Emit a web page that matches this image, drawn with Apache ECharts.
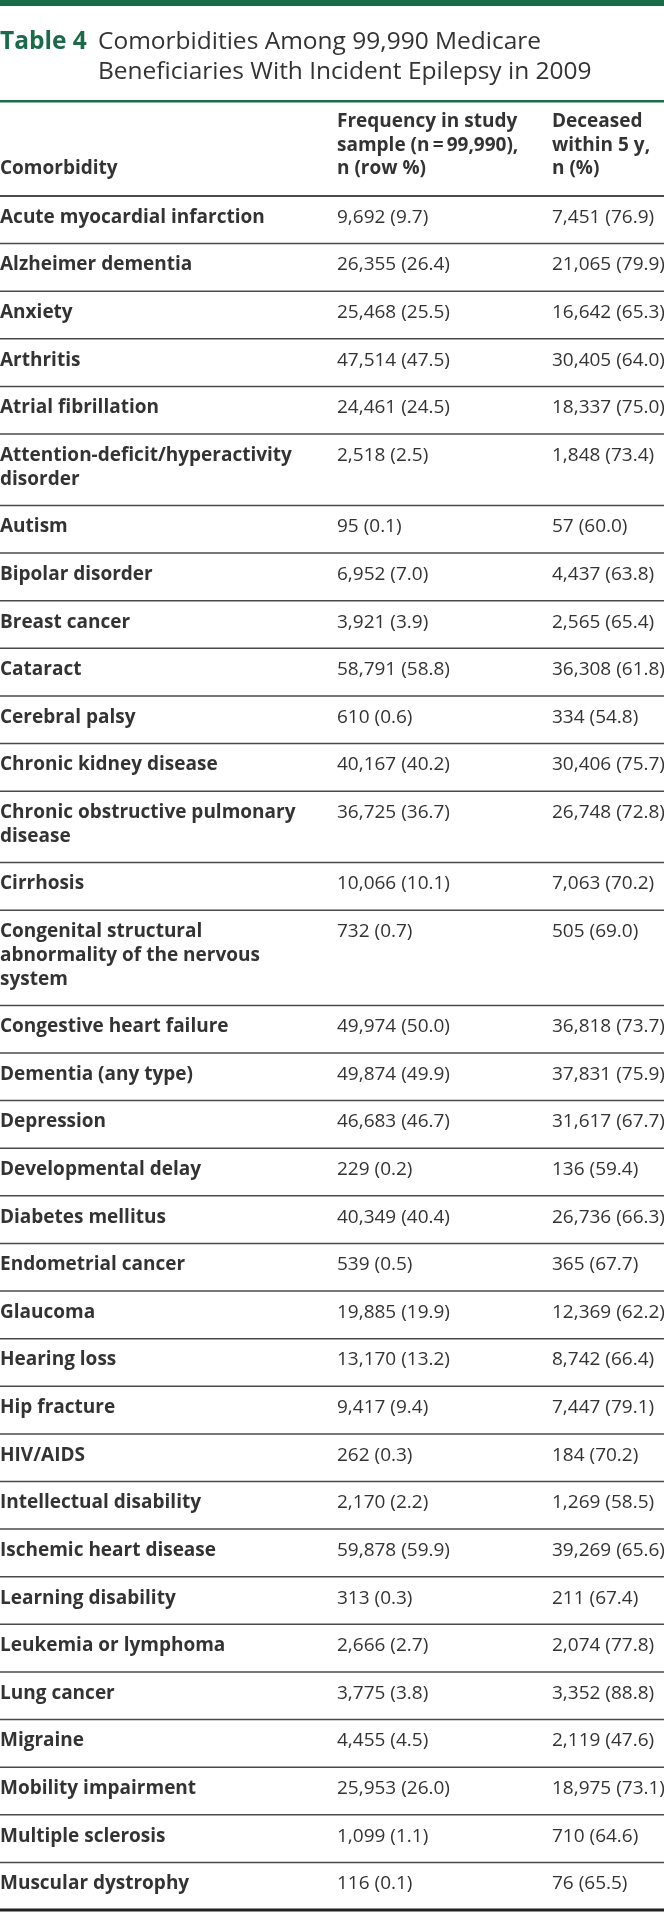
<!DOCTYPE html>
<html>
<head>
<meta charset="utf-8">
<script src="https://cdn.jsdelivr.net/npm/echarts@6/dist/echarts.min.js"></script>
<style>
  html, body { margin: 0; padding: 0; background: #fff; }
  #main { width: 664px; height: 1912px; }
</style>
</head>
<body>
<div id="main"></div>
<script>
// table rows (line breaks as printed)
const comorbidities = [
  'Acute myocardial infarction', 'Alzheimer dementia', 'Anxiety', 'Arthritis',
  'Atrial fibrillation', 'Attention-deficit/hyperactivity\ndisorder', 'Autism',
  'Bipolar disorder', 'Breast cancer', 'Cataract', 'Cerebral palsy',
  'Chronic kidney disease', 'Chronic obstructive pulmonary\ndisease', 'Cirrhosis',
  'Congenital structural\nabnormality of the nervous\nsystem',
  'Congestive heart failure', 'Dementia (any type)', 'Depression',
  'Developmental delay', 'Diabetes mellitus', 'Endometrial cancer', 'Glaucoma',
  'Hearing loss', 'Hip fracture', 'HIV/AIDS', 'Intellectual disability',
  'Ischemic heart disease', 'Learning disability', 'Leukemia or lymphoma',
  'Lung cancer', 'Migraine', 'Mobility impairment', 'Multiple sclerosis',
  'Muscular dystrophy'
];
const freqN = [9692, 26355, 25468, 47514, 24461, 2518, 95, 6952, 3921, 58791, 610,
  40167, 36725, 10066, 732, 49974, 49874, 46683, 229, 40349, 539, 19885, 13170,
  9417, 262, 2170, 59878, 313, 2666, 3775, 4455, 25953, 1099, 116];
const freqPct = [9.7, 26.4, 25.5, 47.5, 24.5, 2.5, 0.1, 7.0, 3.9, 58.8, 0.6,
  40.2, 36.7, 10.1, 0.7, 50.0, 49.9, 46.7, 0.2, 40.4, 0.5, 19.9, 13.2,
  9.4, 0.3, 2.2, 59.9, 0.3, 2.7, 3.8, 4.5, 26.0, 1.1, 0.1];
const deadN = [7451, 21065, 16642, 30405, 18337, 1848, 57, 4437, 2565, 36308, 334,
  30406, 26748, 7063, 505, 36818, 37831, 31617, 136, 26736, 365, 12369, 8742,
  7447, 184, 1269, 39269, 211, 2074, 3352, 2119, 18975, 710, 76];
const deadPct = [76.9, 79.9, 65.3, 64.0, 75.0, 73.4, 60.0, 63.8, 65.4, 61.8, 54.8,
  75.7, 72.8, 70.2, 69.0, 73.7, 75.9, 67.7, 59.4, 66.3, 67.7, 62.2, 66.4,
  79.1, 70.2, 58.5, 65.6, 67.4, 77.8, 88.8, 47.6, 73.1, 64.6, 65.5];

const headers = [
  'Comorbidity',
  'Frequency in study\nsample (n\u2009=\u200999,990),\nn (row %)',
  'Deceased\nwithin 5 y,\nn (%)'
];

const GREEN = '#1b6b4b';
const INK = '#333333';
const FONT = '"Open Sans", "Noto Sans", sans-serif';
const colX = [0, 337, 552];

// each row takes (lines + 1) line slots on the y scale
const rows = [];
let acc = 0;
comorbidities.forEach((name, i) => {
  const lines = name.split('\n').length;
  rows.push([acc, acc + lines + 1, i]);
  acc += lines + 1;
});
const totalSlots = acc;

const fmt = n => n.toLocaleString('en-US');

const chart = echarts.init(document.getElementById('main'));
chart.setOption({
  animation: false,
  grid: { left: 0, right: 0, top: 196, bottom: 2 },
  xAxis: { type: 'value', min: 0, max: 664, show: false },
  yAxis: { type: 'value', min: 0, max: totalSlots, inverse: true, show: false },
  graphic: [
    { type: 'rect', shape: { x: 0, y: 0, width: 664, height: 6 }, style: { fill: GREEN } },
    { type: 'text', x: 0, y: 27, style: { text: 'Table 4', font: 'bold 24.5px ' + FONT, fill: GREEN, lineHeight: 30 } },
    { type: 'text', x: 98, y: 27, style: {
      text: 'Comorbidities Among 99,990 Medicare\nBeneficiaries With Incident Epilepsy in 2009',
      font: '24.5px ' + FONT, fill: INK, lineHeight: 30 } },
    { type: 'rect', shape: { x: 0, y: 100, width: 664, height: 2.5 }, style: { fill: GREEN } },
    { type: 'text', x: colX[0], y: 157, style: { text: headers[0], font: 'bold 19px ' + FONT, fill: INK, lineHeight: 23.5 } },
    { type: 'text', x: colX[1], y: 110, style: { text: headers[1], font: 'bold 19px ' + FONT, fill: INK, lineHeight: 23.5 } },
    { type: 'text', x: colX[2], y: 110, style: { text: headers[2], font: 'bold 19px ' + FONT, fill: INK, lineHeight: 23.5 } },
    { type: 'rect', shape: { x: 0, y: 195, width: 664, height: 2 }, style: { fill: '#4a4a4a' } }
  ],
  series: [{
    type: 'custom',
    data: rows,
    clip: false,
    renderItem: function (params, api) {
      const i = api.value(2);
      const top = api.coord([0, api.value(0)])[1];
      const bottom = api.coord([0, api.value(1)])[1];
      const lh = api.size([0, 1])[1];
      const last = i === comorbidities.length - 1;
      const ty = top + 9.5;
      return {
        type: 'group',
        children: [
          { type: 'text', x: api.coord([colX[0], 0])[0], y: ty, style: {
            text: comorbidities[i], font: 'bold 19px ' + FONT, fill: INK, lineHeight: lh } },
          { type: 'text', x: api.coord([colX[1], 0])[0], y: ty, style: {
            text: fmt(freqN[i]) + ' (' + freqPct[i].toFixed(1) + ')', font: '19px ' + FONT, fill: INK, lineHeight: lh } },
          { type: 'text', x: api.coord([colX[2], 0])[0], y: ty, style: {
            text: fmt(deadN[i]) + ' (' + deadPct[i].toFixed(1) + ')', font: '19px ' + FONT, fill: INK, lineHeight: lh } },
          { type: 'line', shape: { x1: 0, y1: bottom, x2: 664, y2: bottom }, style: {
            stroke: last ? '#222' : '#4a4a4a', lineWidth: last ? 3 : 1.5 } }
        ]
      };
    }
  }]
});
</script>
</body>
</html>
